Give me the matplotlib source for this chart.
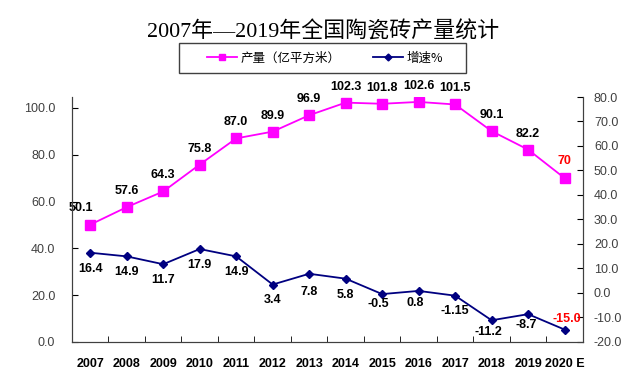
import matplotlib.pyplot as plt
from matplotlib.lines import Line2D
from matplotlib.patches import Rectangle

plt.rcParams['font.family'] = ['Liberation Sans', 'Noto Sans CJK SC', 'DejaVu Sans']

years = ['2007', '2008', '2009', '2010', '2011', '2012', '2013', '2014',
         '2015', '2016', '2017', '2018', '2019', '2020 E']
output = [50.1, 57.6, 64.3, 75.8, 87.0, 89.9, 96.9, 102.3, 101.8, 102.6, 101.5, 90.1, 82.2, 70]
growth = [16.4, 14.9, 11.7, 17.9, 14.9, 3.4, 7.8, 5.8, -0.5, 0.8, -1.15, -11.2, -8.7, -15.0]
output_labels = ['50.1', '57.6', '64.3', '75.8', '87.0', '89.9', '96.9', '102.3',
                 '101.8', '102.6', '101.5', '90.1', '82.2', '70']
growth_labels = ['16.4', '14.9', '11.7', '17.9', '14.9', '3.4', '7.8', '5.8',
                 '-0.5', '0.8', '-1.15', '-11.2', '-8.7', '-15.0']

# label offsets in pixels (dx, dy)
out_off = [(-9, 17)] + [(0, 16)] * 12 + [(0, 17)]
gr_off = [(0, -16)] * 5 + [(0, -15), (0, -18), (0, -16), (-4, -10), (-3, -12),
                           (0, -15), (-3, -12), (-2, -11), (2, 11)]

fig = plt.figure(figsize=(6.37, 3.88), dpi=100)
ax = fig.add_axes([0.113, 0.119, 0.802, 0.631])
ax2 = ax.twinx()

x = list(range(len(years)))
pink = '#FF00FF'
navy = '#000080'

ax.plot(x, output, color=pink, lw=1.3, marker='s', ms=7, zorder=3)
ax2.plot(x, growth, color=navy, lw=1.3, marker='D', ms=4.5, zorder=3)

ax.set_xlim(-0.5, len(years) - 0.5)
ax.set_ylim(0, 104.7)
ax2.set_ylim(-20, 80)

ax.set_yticks([0, 20, 40, 60, 80, 100])
ax.set_yticklabels(['%.1f' % v for v in [0, 20, 40, 60, 80, 100]])
ax2.set_yticks(range(-20, 81, 10))
ax2.set_yticklabels(['%.1f' % v for v in range(-20, 81, 10)])

ax.set_xticks(x)
ax.set_xticklabels(years, fontweight='bold', fontsize=9)
ax.set_xticks([i + 0.5 for i in x[:-1]], minor=True)
ax.tick_params(axis='x', which='major', length=0, pad=12)
ax.tick_params(axis='x', which='minor', direction='in', length=4)
ax.tick_params(axis='y', direction='in', length=4, pad=12, labelsize=9, labelcolor='#404040')
ax2.tick_params(axis='y', direction='in', length=4, pad=8, labelsize=9, labelcolor='#404040')

for a in (ax, ax2):
    a.spines['top'].set_visible(False)
    for s in ('left', 'right', 'bottom'):
        a.spines[s].set_color('#404040')

for i, (v, t) in enumerate(zip(output, output_labels)):
    c = 'red' if i == len(output) - 1 else 'black'
    ax.annotate(t, (i, v), xytext=out_off[i], textcoords='offset pixels',
                ha='center', va='center', fontsize=9, fontweight='bold',
                color=c, annotation_clip=False)

for i, (v, t) in enumerate(zip(growth, growth_labels)):
    c = 'red' if i == len(growth) - 1 else 'black'
    ax2.annotate(t, (i, v), xytext=gr_off[i], textcoords='offset pixels',
                 ha='center', va='center', fontsize=9, fontweight='bold',
                 color=c, annotation_clip=False)

fig.text(0.508, 0.918, '2007年—2019年全国陶瓷砖产量统计', ha='center', va='center',
         fontsize=15.8, family=['Liberation Serif', 'Noto Sans CJK SC', 'DejaVu Sans'])

# legend box
fig.patches.append(Rectangle((179 / 637, 1 - 73 / 388), 287 / 637, 30 / 388,
                             transform=fig.transFigure, fill=False,
                             edgecolor='#404040', lw=1.0))
handles = [Line2D([], [], color=pink, lw=1.3, marker='s', ms=5),
           Line2D([], [], color=navy, lw=1.3, marker='D', ms=3.5)]
leg = fig.legend(handles, ['产量（亿平方米）', '增速%'], loc='center',
                 bbox_to_anchor=(0.51, 0.851), ncol=2, frameon=False,
                 prop={'family': ['Noto Sans CJK SC', 'DejaVu Sans'], 'size': 9},
                 handlelength=2.4, handletextpad=0.3, columnspacing=2.6)

fig.savefig('out.png', dpi=100)
